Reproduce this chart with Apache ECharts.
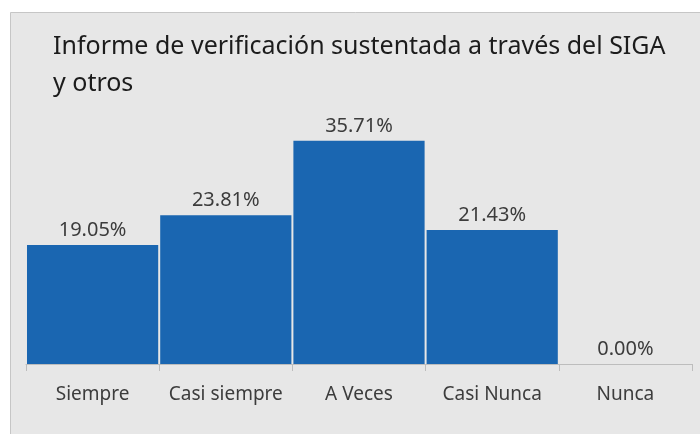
<!DOCTYPE html>
<html lang="es">
<head>
    <meta charset="UTF-8">
    <script src="https://cdn.jsdelivr.net/npm/echarts@6/dist/echarts.min.js"></script>
    <style type="text/css">
        html, body { margin: 0; padding: 0; background: #fff; }
        #main { width: 700px; height: 434px; }
    </style>
</head>
<body>
<div id="main"></div>
<script type="text/javascript">
    var categorias = ['Siempre', 'Casi siempre', 'A Veces', 'Casi Nunca', 'Nunca'];
    var porcentajes = [19.05, 23.81, 35.71, 21.43, 0.00];
    var titulo = 'Informe de verificación sustentada a través del SIGA\ny otros';

    var fuente = 'Noto Sans';
    var myChart = echarts.init(document.getElementById('main'));

    var option = {
        backgroundColor: '#fff',
        animation: false,
        graphic: [{
            type: 'rect',
            shape: { x: 10.5, y: 12.5, width: 700, height: 430 },
            style: { fill: '#e7e7e7', stroke: '#c6c6c6', lineWidth: 1 },
            z: -10
        }],
        title: {
            text: titulo,
            left: 48,
            top: 23,
            textStyle: {
                fontFamily: fuente,
                fontSize: 25,
                fontWeight: 'normal',
                color: '#1c1c1c',
                lineHeight: 37
            }
        },
        grid: { left: 26, right: 8, top: 114, bottom: 70 },
        xAxis: {
            type: 'category',
            data: categorias,
            axisLine: { lineStyle: { color: '#bdbdbd', width: 1 } },
            axisTick: { show: true, length: 7, lineStyle: { color: '#bdbdbd' } },
            axisLabel: {
                interval: 0,
                fontFamily: fuente,
                fontSize: 19,
                color: '#3c3c3c',
                margin: 21
            }
        },
        yAxis: {
            type: 'value',
            min: 0,
            max: 40,
            show: false,
            splitLine: { show: false }
        },
        series: [{
            type: 'bar',
            data: porcentajes,
            barCategoryGap: '1.5%',
            itemStyle: { color: '#1a66b1' },
            label: {
                show: true,
                position: 'top',
                distance: 5,
                fontFamily: fuente,
                fontSize: 20,
                color: '#3c3c3c',
                formatter: function (p) { return p.value.toFixed(2) + '%'; }
            }
        }]
    };

    myChart.setOption(option);
</script>
</body>
</html>
